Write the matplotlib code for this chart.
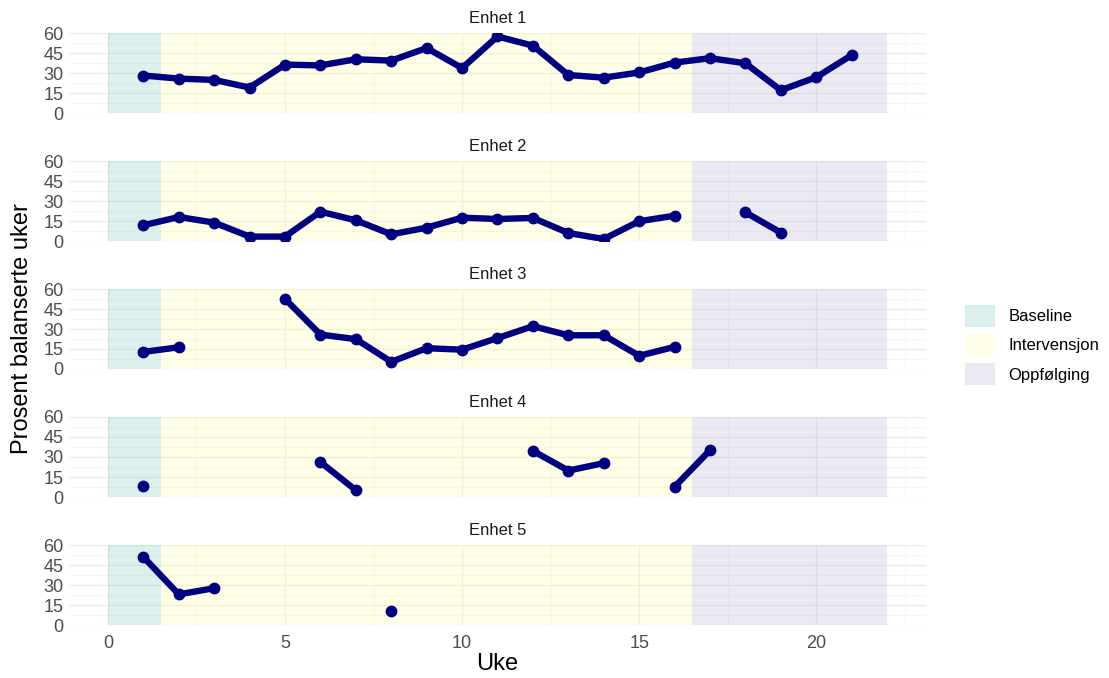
import numpy as np
import matplotlib.pyplot as plt
from matplotlib.patches import Patch

plt.rcParams['font.family'] = ['Liberation Sans', 'DejaVu Sans']

nan = np.nan
weeks = np.arange(1, 22)
units = ['Enhet 1', 'Enhet 2', 'Enhet 3', 'Enhet 4', 'Enhet 5']
enhet1 = [28.1, 25.8, 24.8, 19.1, 36.3, 35.7, 40.3, 39.3, 48.7, 33.7, 57.4,
          50.5, 28.5, 26.5, 30.4, 37.8, 41.1, 37.3, 17.1, 26.8, 43.4]
enhet2 = [11.8, 18.0, 13.8, 3.3, 3.3, 22.0, 15.5, 5.0, 10.0, 17.5, 16.5,
          17.3, 6.0, 1.5, 14.8, 19.0, nan, 21.5, 6.3, nan, nan]
enhet3 = [12.8, 16.3, nan, nan, 52.6, 25.8, 22.4, 5.4, 15.6, 14.5, 23.2,
          32.1, 25.3, 25.3, 9.9, 16.6, nan, nan, nan, nan, nan]
enhet4 = [8.4, nan, nan, nan, nan, 26.2, 5.1, nan, nan, nan, nan,
          34.6, 19.8, 25.4, nan, 7.6, 35.1, nan, nan, nan, nan]
enhet5 = [51.0, 23.0, 27.6, nan, nan, nan, nan, 10.2, nan, nan, nan,
          nan, nan, nan, nan, nan, nan, nan, nan, nan, nan]
series = [enhet1, enhet2, enhet3, enhet4, enhet5]

phases = ['Baseline', 'Intervensjon', 'Oppfølging']
phase_start = [0, 1.5, 16.5]
phase_end = [1.5, 16.5, 22]
phase_colors = ['#8DD3C7', '#FFFFB3', '#BEBADA']

W, H = 1109, 678
fig = plt.figure(figsize=(W / 100, H / 100), dpi=100)

left_px, right_px = 69, 926
tops = [33, 161, 289, 417, 545]
panel_h = 80

axes = []
for i, top in enumerate(tops):
    ax = fig.add_axes([left_px / W, 1 - (top + panel_h) / H,
                       (right_px - left_px) / W, panel_h / H])
    axes.append(ax)

    # grid (theme_minimal style)
    for y in [0, 15, 30, 45, 60]:
        ax.axhline(y, color='#EBEBEB', lw=1.0, zorder=0)
    for y in [7.5, 22.5, 37.5, 52.5]:
        ax.axhline(y, color='#F2F2F2', lw=0.6, zorder=0)
    for x in [0, 5, 10, 15, 20]:
        ax.axvline(x, color='#EBEBEB', lw=1.0, zorder=0)
    for x in [2.5, 7.5, 12.5, 17.5, 22.5]:
        ax.axvline(x, color='#F2F2F2', lw=0.6, zorder=0)

    # phase shading
    for s, e, c in zip(phase_start, phase_end, phase_colors):
        ax.axvspan(s, e, ymin=0, ymax=1, color=c, alpha=0.3, lw=0, zorder=1)

    y = np.array(series[i], dtype=float)
    ax.plot(weeks, y, color='#000080', lw=4.6, solid_capstyle='round',
            solid_joinstyle='round', zorder=3)
    ax.plot(weeks, y, 'o', color='#000080', ms=7.5, zorder=4)

    ax.set_xlim(-1.1, 23.1)
    ax.set_ylim(0, 60)
    ax.set_yticks([0, 15, 30, 45, 60])
    ax.set_xticks([0, 5, 10, 15, 20])
    ax.tick_params(length=0, labelsize=13, colors='#4D4D4D', pad=4)
    if i < 4:
        ax.set_xticklabels([])
    for sp in ax.spines.values():
        sp.set_visible(False)
    ax.set_title(units[i], fontsize=12, color='#1A1A1A', pad=7)

axes[-1].tick_params(axis='x', pad=7)
axes[-1].set_xlabel('Uke', fontsize=17, color='black', labelpad=1)
fig.text(22 / W, 0.5 * (1 - (33 + 625) / H) + 0.5, 'Prosent balanserte uker',
         rotation=90, fontsize=17, ha='center', va='center')

handles = [Patch(facecolor=c, alpha=0.3, edgecolor='none') for c in phase_colors]
fig.legend(handles, phases, loc='center left', bbox_to_anchor=(950 / W, 1 - 345 / H),
           frameon=False, fontsize=12, handlelength=1.8, handleheight=1.7,
           labelspacing=0.4, handletextpad=0.8)

fig.savefig('out.png', dpi=100)
